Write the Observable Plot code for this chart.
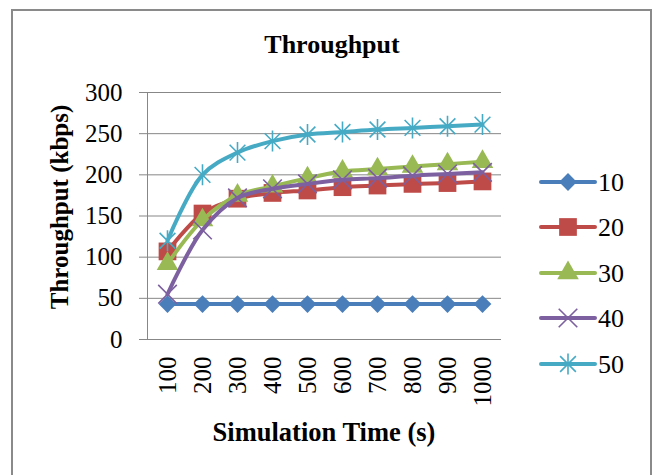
<!DOCTYPE html>
<html><head><meta charset="utf-8">
<script src="https://cdn.jsdelivr.net/npm/d3@7"></script>
<script src="https://cdn.jsdelivr.net/npm/@observablehq/plot@0.6"></script>
<style>
body{margin:0;background:#fff;overflow:hidden;}
#wrap{position:relative;width:654px;height:475px;overflow:hidden;}
#frame{position:absolute;left:11px;top:9px;width:641px;height:490px;border:2px solid #8a8a8a;box-sizing:border-box;}
#chart{position:absolute;left:0;top:0;}
</style></head><body>
<div id="wrap"><div id="frame"></div><div id="chart"></div></div>
<script>
// ---- data ----
const times = [100, 200, 300, 400, 500, 600, 700, 800, 900, 1000];
const seriesNames = ["10", "20", "30", "40", "50"];
const s10 = [43, 43, 43, 43, 43, 43, 43, 43, 43, 43];
const s20 = [107, 153, 171, 178, 181, 185, 187, 189, 190, 192];
const s30 = [92, 145, 175, 186, 196, 204, 207, 210, 213, 216];
const s40 = [55, 133, 172, 183, 189, 194, 196, 199, 201, 203];
const s50 = [120, 200, 227, 241, 249, 252, 255, 257, 259, 261];
const yTicks = [0, 50, 100, 150, 200, 250, 300];
const titleText = "Throughput";
const xLabel = "Simulation Time (s)";
const yLabel = "Throughput (kbps)";

const values = [s10, s20, s30, s40, s50];
const colors = ["#4A7EBB", "#BE4B48", "#98B954", "#7D60A0", "#46AAC5"];

// Excel-like star: vertical bar + X
const starSymbol = {
  draw(context, size) {
    const R = Math.sqrt(size / Math.PI);
    const d = R * 0.75;
    context.moveTo(0, -R); context.lineTo(0, R);
    context.moveTo(-d, -d); context.lineTo(d, d);
    context.moveTo(-d, d); context.lineTo(d, -d);
  }
};
const markerDefs = [
  {symbol: d3.symbolDiamond2, r: 8, filled: true},
  {symbol: d3.symbolSquare, r: 10, filled: true},
  {symbol: d3.symbolTriangle, r: 8, filled: true},
  {symbol: d3.symbolTimes, r: 8.5, filled: false},
  {symbol: starSymbol, r: 10.5, filled: false}
];

const rows = [];
seriesNames.forEach((name, i) => {
  times.forEach((t, j) => rows.push({series: name, t, v: values[i][j]}));
});

const font = "'Liberation Serif', 'Times New Roman', serif";
const marks = [
  Plot.gridY(yTicks, {stroke: "#878787", strokeOpacity: 1, strokeWidth: 1}),
  Plot.frame({anchor: "left", stroke: "#878787", strokeWidth: 1}),
  Plot.axisY(yTicks, {tickSize: 8, tickPadding: 17, fontSize: 25, stroke: "#878787", fill: "black"}),
  Plot.axisX({tickRotate: -90, tickSize: 0, tickPadding: 17, fontSize: 25, fill: "black", tickFormat: d => String(d)})
];
seriesNames.forEach((name, i) => {
  const data = rows.filter(d => d.series === name);
  const m = markerDefs[i];
  marks.push(Plot.line(data, {x: "t", y: "v", stroke: colors[i], strokeWidth: 4, curve: "catmull-rom"}));
  marks.push(Plot.dot(data, m.filled
    ? {x: "t", y: "v", symbol: m.symbol, r: m.r, fill: colors[i], stroke: "none"}
    : {x: "t", y: "v", symbol: m.symbol, r: m.r, fill: "none", stroke: colors[i], strokeWidth: 1.6}));
});

const chart = Plot.plot({
  width: 654,
  height: 475,
  marginLeft: 147,
  marginRight: 153,
  marginTop: 92,
  marginBottom: 136,
  style: {fontFamily: font, background: "transparent", color: "black"},
  x: {type: "point", domain: times, padding: 0.5, label: null},
  y: {domain: [0, 300], label: null},
  marks
});
document.getElementById("chart").appendChild(chart);

// ---- titles & legend ----
const svg = d3.select(chart);
svg.append("text").text(titleText)
  .attr("x", 332).attr("y", 53).attr("text-anchor", "middle")
  .attr("font-family", font).attr("font-size", 26).attr("font-weight", "bold").attr("fill", "black");
svg.append("text").text(xLabel)
  .attr("x", 324).attr("y", 441).attr("text-anchor", "middle")
  .attr("font-family", font).attr("font-size", 26.5).attr("font-weight", "bold").attr("fill", "black");
svg.append("text").text(yLabel)
  .attr("transform", "translate(68,207) rotate(-90)").attr("text-anchor", "middle")
  .attr("font-family", font).attr("font-size", 25).attr("font-weight", "bold").attr("fill", "black");

const legendYs = [182, 227, 273, 318, 364];
const lg = svg.append("g");
seriesNames.forEach((name, i) => {
  const y = legendYs[i];
  const m = markerDefs[i];
  lg.append("line").attr("x1", 541).attr("x2", 595).attr("y1", y).attr("y2", y)
    .attr("stroke", colors[i]).attr("stroke-width", 4).attr("stroke-linecap", "round");
  const p = lg.append("path")
    .attr("d", d3.symbol(m.symbol, Math.PI * m.r * m.r)())
    .attr("transform", `translate(568,${y})`);
  if (m.filled) p.attr("fill", colors[i]);
  else p.attr("fill", "none").attr("stroke", colors[i]).attr("stroke-width", 1.6);
  lg.append("text").text(name).attr("x", 598).attr("y", y).attr("dy", "0.34em")
    .attr("text-anchor", "start")
    .attr("font-family", font).attr("font-size", 26).attr("fill", "black");
});
</script>
</body></html>
